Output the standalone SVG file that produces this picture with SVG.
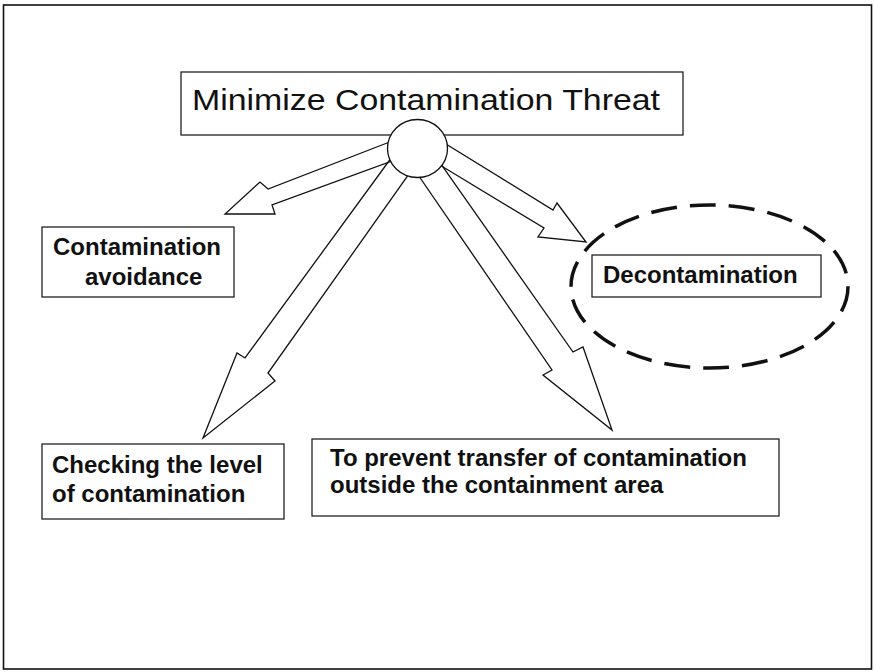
<svg xmlns="http://www.w3.org/2000/svg" width="874" height="672" viewBox="0 0 874 672">
<style>
.box{fill:#fff;stroke:#222;stroke-width:1.3}
.t{font-family:"Liberation Sans",Arial,sans-serif;fill:#111}
.b{font-weight:bold;font-size:24px}
.arr{fill:none;stroke:#111;stroke-width:1.3;stroke-linejoin:miter}
</style>
<rect x="3.5" y="5" width="868" height="664" fill="#fff" stroke="#111" stroke-width="1.6"/>
<g id="title">
<rect class="box" x="181" y="72" width="502" height="63"/>
<text class="t" x="192" y="110" font-size="30" textLength="468" lengthAdjust="spacingAndGlyphs">Minimize Contamination Threat</text>
</g>
<g id="connectors">
<polygon class="arr" points="400,138 268,189 260,182 225,214 275,214 272,205 400,158"/>
<polygon class="arr" points="397,150 245,358 237,353 203,438 275,381 268,373 426,150"/>
<polygon class="arr" points="401,150 552,370 543,375 612,430 583,347 573,352 431,150"/>
<polygon class="arr" points="420,128 553,210 557,203 586,242 538,237 544,228 420,153"/>
</g>
<g id="hub">
<ellipse cx="417.5" cy="148.5" rx="30" ry="29" fill="#fff" stroke="#111" stroke-width="1.3"/>
</g>
<g id="avoidance">
<rect class="box" x="42" y="227" width="192" height="70"/>
<text class="t b" x="53" y="255">Contamination</text>
<text class="t b" x="85" y="285">avoidance</text>
</g>
<g id="decontamination">
<ellipse cx="709.5" cy="286.5" rx="138.5" ry="81.5" fill="none" stroke="#111" stroke-width="3.5" stroke-dasharray="26 13"/>
<rect class="box" x="592" y="255" width="229" height="42"/>
<text class="t b" x="603" y="283">Decontamination</text>
</g>
<g id="checking">
<rect class="box" x="42" y="444" width="242" height="75"/>
<text class="t b" x="52" y="473">Checking the level</text>
<text class="t b" x="52" y="502">of contamination</text>
</g>
<g id="prevent">
<rect class="box" x="312" y="439" width="467" height="77"/>
<text class="t b" x="330" y="466" font-size="23.5">To prevent transfer of contamination</text>
<text class="t b" x="330" y="493" font-size="23.5">outside the containment area</text>
</g>
</svg>
